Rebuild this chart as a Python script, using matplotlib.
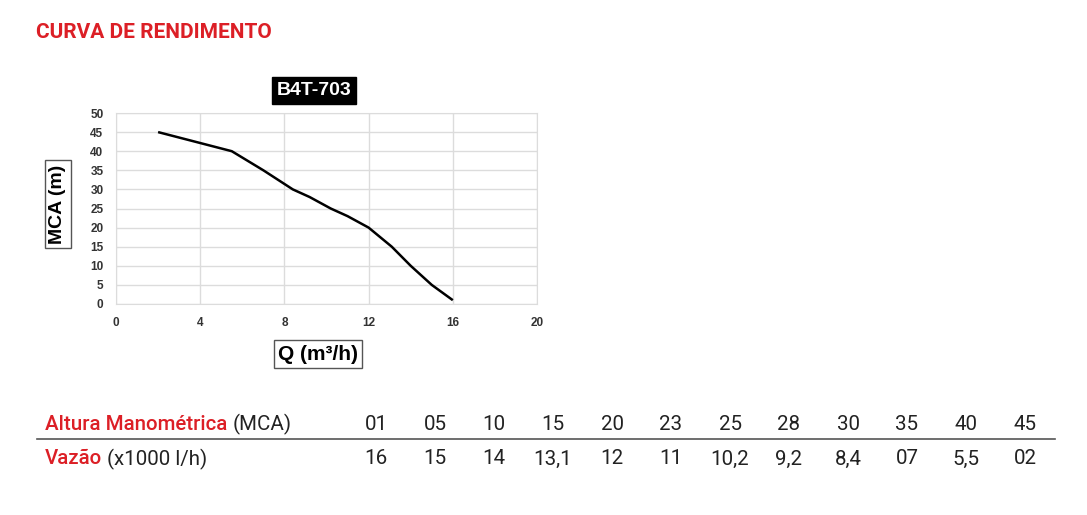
import matplotlib
matplotlib.use("Agg")
import matplotlib.pyplot as plt

# table data (also used to draw the curve)
mca = [1, 5, 10, 15, 20, 23, 25, 28, 30, 35, 40, 45]
mca_labels = ["01", "05", "10", "15", "20", "23", "25", "28", "30", "35", "40", "45"]
vazao = [16, 15, 14, 13.1, 12, 11, 10.2, 9.2, 8.4, 7, 5.5, 2]
vazao_labels = ["16", "15", "14", "13,1", "12", "11", "10,2", "9,2", "8,4", "07", "5,5", "02"]

x_ticks = [0, 4, 8, 12, 16, 20]
y_ticks = [0, 5, 10, 15, 20, 25, 30, 35, 40, 45, 50]

RED = "#dc1f26"
DARK = "#222222"
W, H = 1087, 515

fig = plt.figure(figsize=(W / 100, H / 100), dpi=100)
fig.patch.set_facecolor("white")


def fx(px):
    return px / W


def fy(py):
    return 1 - py / H


# header
fig.text(fx(36), fy(33), "CURVA DE RENDIMENTO", color=RED, fontsize=15,
         fontweight="bold", family="Roboto", va="center", ha="left")

# chart
ax = fig.add_axes([fx(116), fy(304), fx(537) - fx(116), fy(113) - fy(304)])
ax.plot(vazao, mca, color="black", lw=1.8, solid_capstyle="butt")
ax.set_xlim(0, 20)
ax.set_ylim(0, 50)
ax.set_xticks(x_ticks)
ax.set_yticks(y_ticks)
ax.grid(True, color="#dcdcdc", lw=1)
ax.set_axisbelow(True)
for s in ax.spines.values():
    s.set_color("#dcdcdc")
ax.tick_params(length=0, labelsize=8.5, labelcolor="#333333", pad=9)
for lab in ax.get_xticklabels() + ax.get_yticklabels():
    lab.set_fontweight("bold")
    lab.set_family("Liberation Sans")

BOLD = dict(fontweight="bold", family="Liberation Sans", ha="center", va="center")
fig.text(fx(314), fy(90.5), "B4T-703", color="white", fontsize=14,
         bbox=dict(boxstyle="square,pad=0.25", fc="black", ec="black"), **BOLD)
fig.text(fx(58), fy(204), "MCA (m)", color="black", fontsize=14, rotation=90,
         bbox=dict(boxstyle="square,pad=0.25", fc="white", ec="#555555", lw=1), **BOLD)
fig.text(fx(318), fy(354), "Q (m\u00b3/h)", color="black", fontsize=15,
         bbox=dict(boxstyle="square,pad=0.2", fc="white", ec="#555555", lw=1), **BOLD)

# table
renderer = fig.canvas.get_renderer()
TFS = 14.8


def two_color(x, y, red_part, dark_part):
    t = fig.text(fx(x), fy(y), red_part, color=RED, fontsize=TFS, family="Roboto",
                 fontweight="medium", va="center", ha="left")
    bb = t.get_window_extent(renderer)
    fig.text(bb.x1 / W + fx(5), fy(y), dark_part, color=DARK, fontsize=TFS,
             family="Roboto", va="center", ha="left")


two_color(45, 424, "Altura Manom\u00e9trica", "(MCA)")
two_color(45, 459, "Vaz\u00e3o", "(x1000 l/h)")

col_x = [376 + i * 59 for i in range(len(mca_labels))]
for cx, a, b in zip(col_x, mca_labels, vazao_labels):
    fig.text(fx(cx), fy(424), a, color=DARK, fontsize=TFS, family="Roboto", ha="center", va="center")
    fig.text(fx(cx), fy(459), b, color=DARK, fontsize=TFS, family="Roboto", ha="center", va="center")

fig.add_artist(plt.Line2D([fx(37), fx(1055)], [fy(439), fy(439)], color="#555555", lw=1.2))

fig.savefig("out.png", dpi=100)
